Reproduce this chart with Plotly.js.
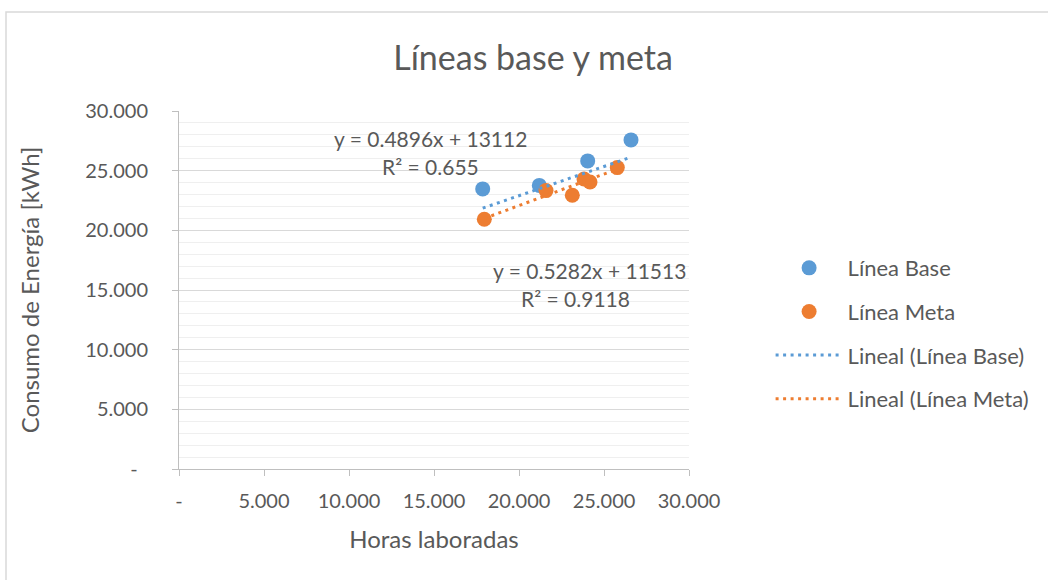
<!DOCTYPE html>
<html>
<head>
<meta charset="utf-8">
<script src="https://cdn.plot.ly/plotly-3.0.1.min.js"></script>
<style>html,body{margin:0;padding:0;background:#fff;}#chart{width:1048px;height:580px;}</style>
</head>
<body>
<div id="chart"></div>
<script>
// ---- data ----
const horasBase   = [17865, 21194, 24041, 26588];
const consumoBase = [23470, 23764, 25817, 27577];
const horasMeta   = [17959, 21588, 23135, 23824, 24176, 25782];
const consumoMeta = [20930, 23328, 22942, 24300, 24050, 25256];
// trendline coefficients as printed on the chart [slope, intercept, R2]
const trendBase = [0.4896, 13112, 0.655];
const trendMeta = [0.5282, 11513, 0.9118];
const seriesNames = ['Línea Base', 'Línea Meta', 'Lineal (Línea Base)', 'Lineal (Línea Meta)'];
const axisTickVals = [0, 5000, 10000, 15000, 20000, 25000, 30000];
const xTickLabels = ['-', '5.000', '10.000', '15.000', '20.000', '25.000', '30.000'];
const yTickLabels = ['-\u00a0\u00a0', '5.000', '10.000', '15.000', '20.000', '25.000', '30.000'];

const FONT = 'Lato, "Noto Sans", sans-serif';
const GREY = '#595959';
const BLUE = '#5b9bd5';
const ORANGE = '#ed7d31';

function trendXY(xs, coef) {
  const x0 = Math.min(...xs), x1 = Math.max(...xs);
  return {x: [x0, x1], y: [coef[0] * x0 + coef[1], coef[0] * x1 + coef[1]]};
}
const tb = trendXY(horasBase, trendBase);
const tm = trendXY(horasMeta, trendMeta);

function fmtEq(c) { return 'y = ' + c[0] + 'x + ' + c[1]; }

const traces = [
  {x: horasBase, y: consumoBase, name: seriesNames[0], type: 'scatter', mode: 'markers',
   marker: {color: BLUE, size: 15}, legendgroup: 'a'},
  {x: horasMeta, y: consumoMeta, name: seriesNames[1], type: 'scatter', mode: 'markers',
   marker: {color: ORANGE, size: 15}, legendgroup: 'b'},
  {x: tb.x, y: tb.y, name: seriesNames[2], type: 'scatter', mode: 'lines',
   line: {color: BLUE, width: 3, dash: '3px,4.5px'}, legendgroup: 'c'},
  {x: tm.x, y: tm.y, name: seriesNames[3], type: 'scatter', mode: 'lines',
   line: {color: ORANGE, width: 3, dash: '3px,4.5px'}, legendgroup: 'd'}
];

const EQ = 21;
const layout = {
  width: 1048, height: 580,
  margin: {l: 179, r: 359, t: 111, b: 111},
  paper_bgcolor: '#ffffff', plot_bgcolor: '#ffffff',
  font: {family: FONT, color: GREY, size: 20},
  title: {text: 'Líneas base y meta', font: {family: FONT, size: 34, color: GREY},
          x: 0.5086, xanchor: 'center', xref: 'container', y: 0.9, yref: 'container', yanchor: 'middle'},
  showlegend: true,
  legend: {x: 1.16, xanchor: 'left', y: 0.62, yanchor: 'top', font: {family: FONT, size: 22, color: GREY},
           tracegroupgap: 12, itemwidth: 67, bgcolor: 'rgba(0,0,0,0)'},
  xaxis: {
    range: [0, 30000], tickvals: axisTickVals, ticktext: xTickLabels,
    showgrid: false, zeroline: false, showline: true, linecolor: '#bfbfbf', linewidth: 1,
    ticks: 'outside', ticklen: 6, tickcolor: '#bfbfbf', ticklabelstandoff: 8,
    tickfont: {size: 20, color: GREY},
    title: {text: 'Horas laboradas', font: {size: 24, color: GREY}, standoff: 20}
  },
  yaxis: {
    range: [0, 30000], tickvals: axisTickVals, ticktext: yTickLabels,
    showgrid: true, gridcolor: '#d9d9d9', gridwidth: 1,
    minor: {dtick: 1000, showgrid: true, gridcolor: '#efefef', gridwidth: 1},
    zeroline: false, showline: true, linecolor: '#bfbfbf', linewidth: 1,
    ticks: 'outside', ticklen: 6, tickcolor: '#bfbfbf', ticklabelstandoff: 20,
    tickfont: {size: 20, color: GREY},
    title: {text: 'Consumo de Energía [kWh]', font: {size: 24, color: GREY}, standoff: 38}
  },
  annotations: [
    {xref: 'paper', yref: 'paper', x: (430 - 179) / 510, y: (469 - 138) / 358, text: fmtEq(trendBase),
     showarrow: false, xanchor: 'center', yanchor: 'middle', font: {size: EQ, color: GREY}},
    {xref: 'paper', yref: 'paper', x: (430 - 179) / 510, y: (469 - 166) / 358, text: 'R² = ' + trendBase[2],
     showarrow: false, xanchor: 'center', yanchor: 'middle', font: {size: EQ, color: GREY}},
    {xref: 'paper', yref: 'paper', x: (589 - 179) / 510, y: (469 - 270) / 358, text: fmtEq(trendMeta),
     showarrow: false, xanchor: 'center', yanchor: 'middle', font: {size: EQ, color: GREY}},
    {xref: 'paper', yref: 'paper', x: (575 - 179) / 510, y: (469 - 298) / 358, text: 'R² = ' + trendMeta[2],
     showarrow: false, xanchor: 'center', yanchor: 'middle', font: {size: EQ, color: GREY}}
  ],
  shapes: [
    {type: 'rect', xref: 'paper', yref: 'paper', x0: (6 - 179) / 510, x1: 2, y0: -1, y1: (469 - 12) / 358,
     line: {color: '#d9d9d9', width: 1.5}, fillcolor: 'rgba(0,0,0,0)', layer: 'below'}
  ]
};

Plotly.newPlot('chart', traces, layout, {displayModeBar: false, staticPlot: true});
</script>
</body>
</html>
